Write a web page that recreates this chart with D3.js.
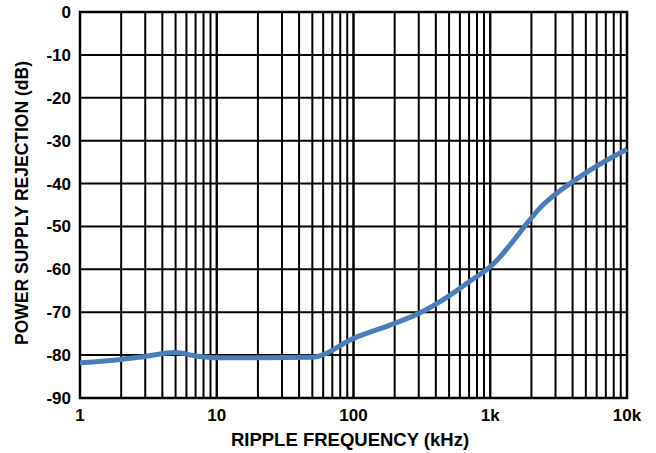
<!DOCTYPE html>
<html><head><meta charset="utf-8">
<script src="https://cdn.jsdelivr.net/npm/d3@7"></script>
<style>body{margin:0;background:#fff}svg{display:block}text{font-family:"Liberation Sans",Arial,sans-serif;font-weight:bold;fill:#000}</style>
</head><body>
<script>
const freqKHz = [1, 2, 3, 5, 7, 10, 20, 50, 100, 200, 300, 500, 700, 1000, 2500, 5000, 10000];
const psrDB = [-81.8, -81, -80.3, -79.4, -80.2, -80.6, -80.6, -80.5, -76.1, -72.6, -70.3, -66.2, -62.9, -59.4, -44.6, -37.5, -32];
const xTickValues = [1, 10, 100, 1000, 10000];
const xTickLabels = ["1", "10", "100", "1k", "10k"];
const yTickValues = [0, -10, -20, -30, -40, -50, -60, -70, -80, -90];

const W = 656, H = 453;
const m = {l: 80, r: 29, t: 12, b: 55};
const svg = d3.select("body").append("svg").attr("width", W).attr("height", H);
const x = d3.scaleLog().domain([1, 10000]).range([m.l, W - m.r]);
const y = d3.scaleLinear().domain([-90, 0]).range([H - m.b, m.t]);

const minor = [];
for (let d = 1; d < 10000; d *= 10) for (let k = 1; k <= 10; k++) minor.push(d * k);
const g = svg.append("g");
g.selectAll("line.v").data(minor).enter().append("line")
  .attr("x1", d => x(d)).attr("x2", d => x(d)).attr("y1", y(0)).attr("y2", y(-90))
  .attr("stroke", "#000").attr("stroke-width", 2);
g.selectAll("line.h").data(yTickValues).enter().append("line")
  .attr("x1", x(1)).attr("x2", x(10000)).attr("y1", d => y(d)).attr("y2", d => y(d))
  .attr("stroke", "#000").attr("stroke-width", 2);
svg.append("rect").attr("x", x(1)).attr("y", y(0)).attr("width", x(10000) - x(1)).attr("height", y(-90) - y(0))
  .attr("fill", "none").attr("stroke", "#000").attr("stroke-width", 2.5);

const line = d3.line().x((d, i) => x(freqKHz[i])).y(d => y(d)).curve(d3.curveMonotoneX);
svg.append("path").datum(psrDB).attr("d", line).attr("fill", "none")
  .attr("stroke", "#4a7ebb").attr("stroke-width", 5).attr("stroke-linejoin", "round");

svg.selectAll("text.yt").data(yTickValues).enter().append("text")
  .attr("x", 71).attr("y", d => y(d) + 6).attr("text-anchor", "end").attr("font-size", 17).text(d => d);
svg.selectAll("text.xt").data(xTickValues).enter().append("text")
  .attr("x", d => x(d)).attr("y", 421).attr("text-anchor", "middle").attr("font-size", 17).text((d, i) => xTickLabels[i]);
svg.append("text").attr("x", 350).attr("y", 446).attr("text-anchor", "middle").attr("font-size", 18.5).text("RIPPLE FREQUENCY (kHz)");
svg.append("text").attr("transform", "translate(28,203) rotate(-90)")
  .attr("text-anchor", "middle").attr("font-size", 17.5).text("POWER SUPPLY REJECTION (dB)");
</script>
</body></html>
